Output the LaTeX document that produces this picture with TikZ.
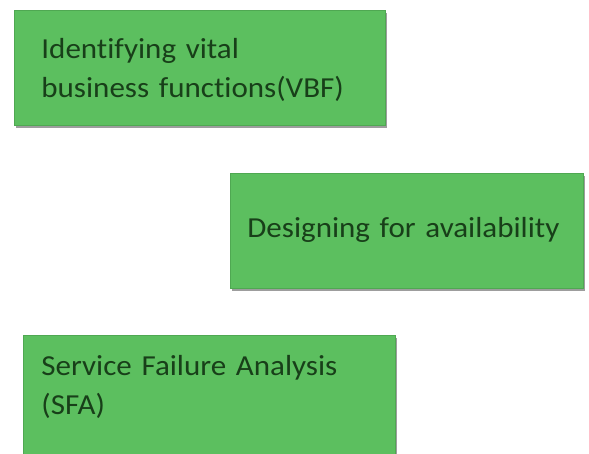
\documentclass[tikz,border=0pt]{standalone}
\usepackage{fontspec}
\setmainfont{Carlito}[Ligatures=NoCommon, FakeStretch=1.07]
\usetikzlibrary{shadows}
\definecolor{boxgreen}{HTML}{5CBF5F}
\definecolor{boxedge}{HTML}{4FA852}
\definecolor{txtgreen}{HTML}{183F19}
\tikzset{
  vbox/.style={draw=boxedge, line width=0.8pt, fill=boxgreen, anchor=north west,
    align=left, inner ysep=0pt, text=txtgreen, text height=22pt,
    font=\fontsize{29}{39}\selectfont,
    drop shadow={shadow xshift=2pt, shadow yshift=-3pt, opacity=0.55, fill=black!70}}
}
\begin{document}
\begin{tikzpicture}[x=1pt,y=-1pt]
\useasboundingbox (0,0) rectangle (589,453);
\node[vbox, minimum width=371pt, minimum height=115pt, inner xsep=27pt, text width=317pt, text depth=41pt] (vbf) at (14,10)
  {Identifying vital\\business functions(VBF)};
\node[vbox, minimum width=353pt, minimum height=115pt, inner xsep=17pt, text width=319pt, text depth=8pt] (dfa) at (230,173)
  {Designing for availability};
\node[vbox, minimum width=372pt, minimum height=125pt, inner xsep=18pt, text width=336pt, text depth=67pt] (sfa) at (23,335)
  {Service Failure Analysis\\(SFA)};
\end{tikzpicture}
\end{document}
